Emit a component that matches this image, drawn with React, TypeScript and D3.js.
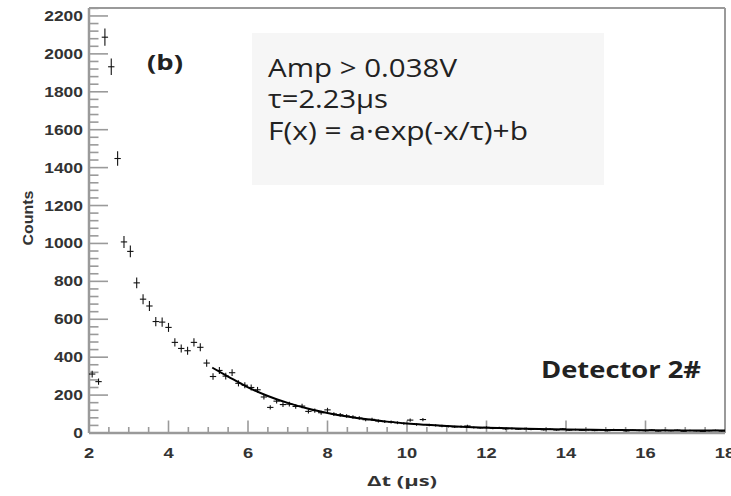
import React from "react";
import * as d3 from "d3";

// Histogram: 100 bins from 2 to 18 µs (bin width 0.16)
const binStart = 2;
const binWidth = 0.16;
const counts = [
  311, 271, 2088, 1932, 1448, 1008, 958, 792, 706, 670,
  588, 585, 557, 478, 446, 434, 478, 452, 369, 298,
  330, 300, 318, 262, 252, 240, 228, 190, 135, 168,
  150, 152, 140, 142, 114, 118, 107, 122, 100, 96,
  90, 84, 79, 70, 72, 63, 60, 58, 54, 50,
  68, 45, 71, 42, 40, 37, 35, 32, 34, 37,
  29, 27, 30, 25, 28, 22, 24, 20, 23, 19,
  21, 17, 20, 16, 22, 15, 18, 14, 17, 13,
  16, 12, 18, 14, 11, 15, 13, 12, 16, 10,
  14, 12, 15, 9, 13, 11, 8, 12, 14, 10,
];

// Fit curve
const fitX = [5.1, 5.5, 6.0, 6.5, 7.0, 7.5, 8.0, 8.5, 9.0, 9.5, 10.0, 10.5, 11.0, 11.5, 12.0, 13.0, 14.0, 15.0, 16.0, 17.0, 18.0];
const fitY = [345, 298, 241, 195, 159, 129, 106, 87, 72, 60, 50, 43, 37, 32, 28, 22, 18, 16, 14, 13, 13];

const xTicks = [2, 4, 6, 8, 10, 12, 14, 16, 18];
const yTicks = [0, 200, 400, 600, 800, 1000, 1200, 1400, 1600, 1800, 2000, 2200];

const boxLines = ["Amp > 0.038V", "τ=2.23μs", "F(x) = a·exp(-x/τ)+b"];

export default function App() {
  const W = 731, H = 496;
  const x = d3.scaleLinear().domain([2, 18]).range([89, 725]);
  const y = d3.scaleLinear().domain([0, 2242]).range([433, 8]);

  const xMinor = d3.range(2, 18.001, 0.5);
  const yMinor = d3.range(0, 2242, 40);

  const line = d3
    .line<number>()
    .x((_, i) => x(fitX[i]))
    .y((d) => y(d))
    .curve(d3.curveMonotoneX);

  const axisCol = "#9a9a9a";
  const labelFont = "'Liberation Sans', Arial, sans-serif";
  const textFont = "'Open Sans', 'DejaVu Sans', sans-serif";

  const digitW = (s: string) => s.length * 9.7;

  return (
    <svg width={W} height={H} style={{ position: "absolute", left: 0, top: 0, background: "#fff" }}>
      <rect x={0} y={0} width={W} height={H} fill="#fff" />
      {/* stats box */}
      <rect x={252} y={33} width={352} height={152} fill="#f6f6f6" />
      {boxLines.map((t, i) => (
        <text
          key={i}
          x={268}
          y={[77, 108, 140][i]}
          fontFamily={textFont}
          fontSize={25}
          fill="#222"
          textLength={[189, 120, 260][i]}
          lengthAdjust="spacingAndGlyphs"
        >
          {t}
        </text>
      ))}
      {/* frame */}
      <line x1={x(2)} x2={x(18)} y1={8} y2={8} stroke={axisCol} strokeWidth={2} />
      <line x1={x(18)} x2={x(18)} y1={8} y2={y(0)} stroke={axisCol} strokeWidth={2} />
      <line x1={x(2)} x2={x(2)} y1={8} y2={y(0)} stroke={axisCol} strokeWidth={2.5} />
      <line x1={x(2)} x2={x(18)} y1={y(0)} y2={y(0)} stroke={axisCol} strokeWidth={2.5} />
      {/* y ticks */}
      {yMinor.map((v) => (
        <line key={"ym" + v} x1={x(2)} x2={x(2) + (v % 200 === 0 ? 19 : 9.5)} y1={y(v)} y2={y(v)} stroke={axisCol} strokeWidth={1.6} />
      ))}
      {/* x ticks */}
      {xMinor.map((v) => (
        <line key={"xm" + v} x1={x(v)} x2={x(v)} y1={y(0)} y2={y(0) - (v % 2 === 0 ? 12.5 : 6)} stroke={axisCol} strokeWidth={1.6} />
      ))}
      {/* tick labels */}
      {yTicks.map((v) => (
        <text
          key={"yl" + v}
          x={83}
          y={y(v) + 5}
          textAnchor="end"
          fontFamily={labelFont}
          fontWeight="bold"
          fontSize={14}
          fill="#333"
          textLength={digitW(String(v))}
          lengthAdjust="spacingAndGlyphs"
        >
          {v}
        </text>
      ))}
      {xTicks.map((v) => (
        <text
          key={"xl" + v}
          x={x(v)}
          y={458}
          textAnchor="middle"
          fontFamily={labelFont}
          fontWeight="bold"
          fontSize={15}
          fill="#333"
          textLength={digitW(String(v)) * 1.05}
          lengthAdjust="spacingAndGlyphs"
        >
          {v}
        </text>
      ))}
      {/* axis titles */}
      <text
        transform="translate(33,218) rotate(-90)"
        textAnchor="middle"
        fontFamily={labelFont}
        fontWeight="bold"
        fontSize={14}
        fill="#333"
        textLength={55}
        lengthAdjust="spacingAndGlyphs"
      >
        Counts
      </text>
      <text
        x={402}
        y={486}
        textAnchor="middle"
        fontFamily={textFont}
        fontWeight="bold"
        fontSize={15}
        fill="#333"
        textLength={70}
        lengthAdjust="spacingAndGlyphs"
      >
        Δt (μs)
      </text>
      {/* data with error bars */}
      <g stroke="#111" strokeWidth={1.1}>
        {counts.map((c, i) => {
          const cx = binStart + binWidth * (i + 0.5);
          const e = Math.sqrt(c);
          return (
            <g key={"p" + i}>
              <line x1={x(cx - binWidth / 2)} x2={x(cx + binWidth / 2)} y1={y(c)} y2={y(c)} />
              <line x1={x(cx)} x2={x(cx)} y1={y(c - e)} y2={y(c + e)} />
            </g>
          );
        })}
      </g>
      {/* fit */}
      <path d={line(fitY) || ""} fill="none" stroke="#000" strokeWidth={2} />
      {/* labels */}
      <text
        x={147}
        y={70}
        fontFamily={textFont}
        fontWeight="bold"
        fontSize={22}
        fill="#222"
        textLength={36}
        lengthAdjust="spacingAndGlyphs"
      >
        (b)
      </text>
      <text
        x={541}
        y={378}
        fontFamily={textFont}
        fontWeight="bold"
        fontSize={23}
        fill="#222"
        textLength={160}
        lengthAdjust="spacingAndGlyphs"
      >
        Detector 2#
      </text>
    </svg>
  );
}
